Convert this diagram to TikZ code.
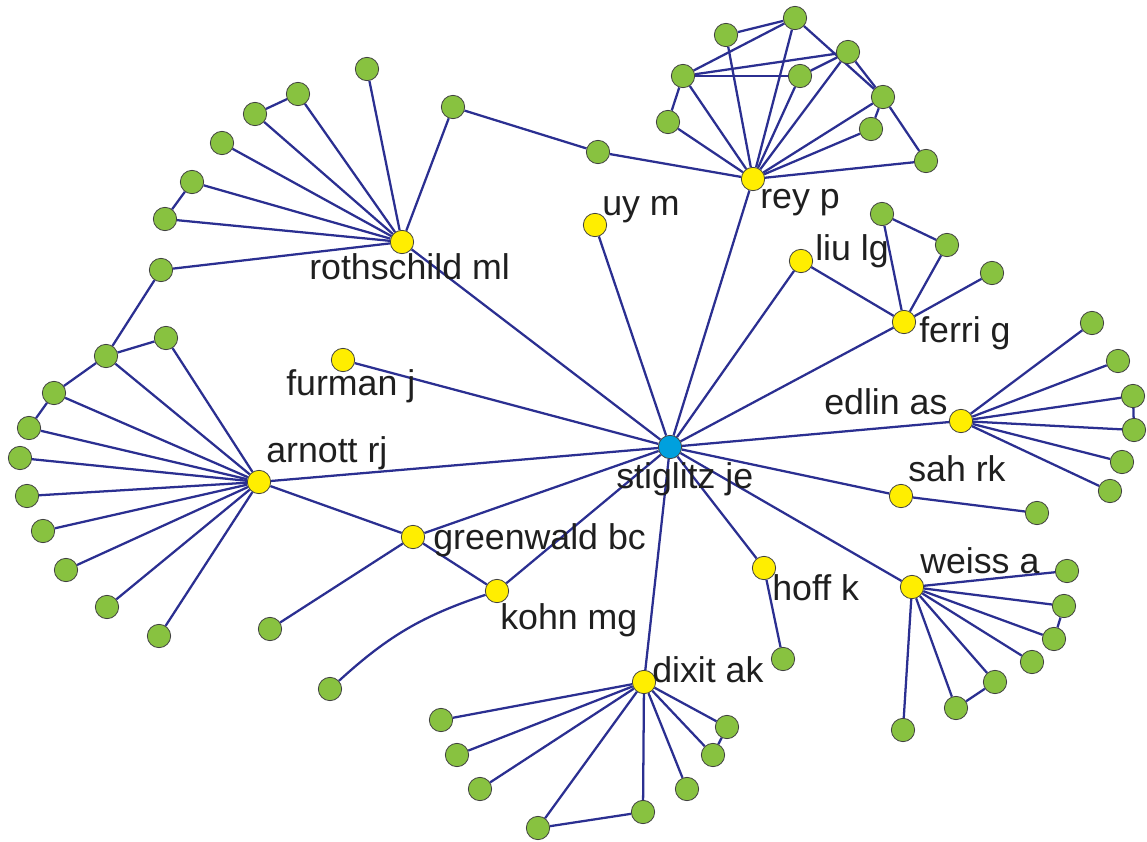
\documentclass[tikz,border=0pt]{standalone}
\usepackage{fontspec}
\setmainfont{Liberation Sans}
\pgfdeclarelayer{background}
\pgfsetlayers{background,main}
\definecolor{leafgreen}{RGB}{136,194,64}
\definecolor{authoryellow}{RGB}{255,238,0}
\definecolor{hubblue}{RGB}{0,160,222}
\definecolor{linkblue}{RGB}{43,47,145}
\begin{document}
\begin{tikzpicture}[x=0.75pt,y=-0.75pt]
	\tikzset{
		leaf/.style={circle,draw=black!75,line width=0.6pt,fill=leafgreen,minimum size=17.5pt,inner sep=0pt},
		author/.style={leaf,fill=authoryellow},
		hub/.style={leaf,fill=hubblue},
		lbl/.style={anchor=base west,inner sep=0pt,text=black!88,font=\fontsize{26.8}{31}\selectfont},
		edge/.style={line width=1.7pt,color=linkblue}
	}
	\useasboundingbox (0,0) rectangle (1147,842);
	% centre and authors
	\node[hub] (stiglitz) at (670,447) {};
	\node[lbl] (stiglitz-l) at (616,488) {stiglitz je};
	\foreach \n/\x/\y/\lx/\ly/\text in {
		rey/753/179/760/208/rey p,
		uy/595/225/602/215/uy m,
		liu/801/261/815/260/liu lg,
		ferri/904/322/919/342/ferri g,
		roth/402/242/309/279/rothschild ml,
		furman/343/360/286/395/furman j,
		arnott/259/482/266/462/arnott rj,
		greenwald/413/537/433/549/greenwald bc,
		kohn/497/591/500/629/kohn mg,
		edlin/961/421/824/414/edlin as,
		sah/901/496/908/481/sah rk,
		weiss/912/587/920/573/weiss a,
		hoff/764/568/772/600/hoff k,
		dixit/644/682/652/682/dixit ak
	}{
		\node[author] (\n) at (\x,\y) {};
		\node[lbl] (\n-l) at (\lx,\ly) {\text};
	}
	% green leaves
	\foreach \n/\x/\y in {
		ry0/598/152,ry1/795/18,ry2/726/35,ry3/848/52,ry4/683/76,ry5/800/76,
		ry6/883/97,ry7/668/122,ry8/871/129,ry9/926/161,
		rt1/367/69,rt2/298/94,rt3/255/114,rt4/222/143,rt5/192/182,
		rt6/165/219,rt7/161/270,rt8/453/107,
		ar1/166/338,ar2/106/356,ar3/54/393,ar4/29/428,ar5/20/458,
		ar6/27/496,ar7/43/531,ar8/66/570,ar9/107/607,ar10/159/636,
		gw1/270/629,kh1/330/689,hf1/783/659,sh1/1037/513,
		dx1/441/720,dx2/457/755,dx3/480/789,dx4/538/828,
		dx5/643/812,dx6/687/789,dx7/713/755,dx8/727/727,
		ws1/1067/571,ws2/1064/606,ws3/1054/639,ws4/1032/662,
		ws5/995/682,ws6/956/708,ws7/903/730,
		ed1/1092/323,ed2/1118/361,ed3/1133/396,ed4/1134/430,
		ed5/1122/462,ed6/1110/491,
		fe1/882/214,fe2/947/245,fe3/992/273
	}{
		\node[leaf] (\n) at (\x,\y) {};
	}
	\begin{pgfonlayer}{background}
		% spokes from the centre
		\foreach \a in {rey,uy,liu,ferri,roth,furman,arnott,greenwald,kohn,edlin,sah,weiss,hoff,dixit}
			\draw[edge] (stiglitz) -- (\a);
		% rey p
		\foreach \a in {ry0,ry1,ry2,ry3,ry4,ry5,ry6,ry7,ry8,ry9}
			\draw[edge] (rey) -- (\a);
		\foreach \a/\b in {ry2/ry1,ry4/ry1,ry4/ry3,ry4/ry5,ry5/ry3,ry1/ry6,ry3/ry6,ry6/ry9,ry6/ry8,ry4/ry7,ry0/rt8}
			\draw[edge] (\a) -- (\b);
		% rothschild ml
		\foreach \a in {rt1,rt2,rt3,rt4,rt5,rt6,rt7,rt8}
			\draw[edge] (roth) -- (\a);
		\foreach \a/\b in {rt2/rt3,rt5/rt6,rt7/ar2}
			\draw[edge] (\a) -- (\b);
		% arnott rj
		\foreach \a in {ar1,ar2,ar3,ar4,ar5,ar6,ar7,ar8,ar9,ar10,greenwald}
			\draw[edge] (arnott) -- (\a);
		\foreach \a/\b in {ar2/ar1,ar2/ar3,ar3/ar4}
			\draw[edge] (\a) -- (\b);
		% greenwald bc, kohn mg
		\draw[edge] (greenwald) -- (gw1);
		\draw[edge] (greenwald) -- (kohn);
		\draw[edge] (kohn) to[bend right=12] (kh1);
		% dixit ak
		\foreach \a in {dx1,dx2,dx3,dx4,dx5,dx6,dx7,dx8}
			\draw[edge] (dixit) -- (\a);
		\draw[edge] (dx4) -- (dx5);
		\draw[edge] (dx7) -- (dx8);
		% weiss a
		\foreach \a in {ws1,ws2,ws3,ws4,ws5,ws6,ws7}
			\draw[edge] (weiss) -- (\a);
		\draw[edge] (ws2) -- (ws3);
		\draw[edge] (ws5) -- (ws6);
		% edlin as, sah rk, hoff k
		\foreach \a in {ed1,ed2,ed3,ed4,ed5,ed6}
			\draw[edge] (edlin) -- (\a);
		\draw[edge] (ed3) -- (ed4);
		\draw[edge] (sah) -- (sh1);
		\draw[edge] (hoff) -- (hf1);
		% ferri g, liu lg
		\foreach \a in {liu,fe1,fe2,fe3}
			\draw[edge] (ferri) -- (\a);
		\draw[edge] (fe1) -- (fe2);
	\end{pgfonlayer}
\end{tikzpicture}
\end{document}
